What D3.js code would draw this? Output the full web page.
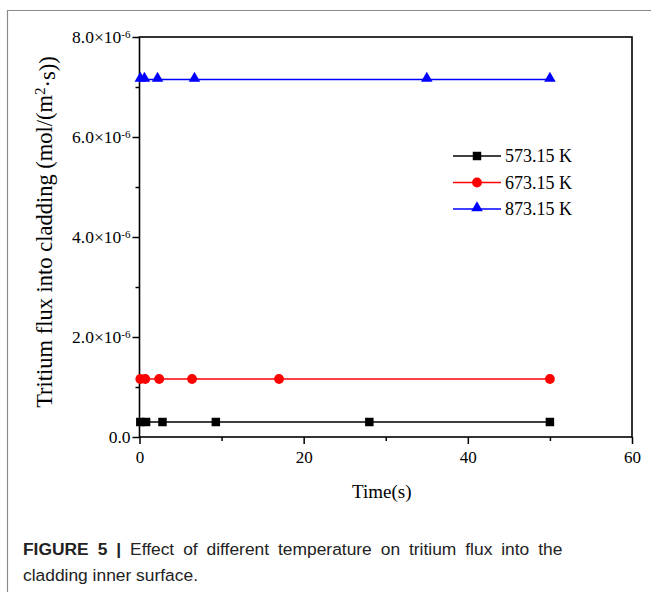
<!DOCTYPE html>
<html>
<head>
<meta charset="utf-8">
<script src="https://cdn.jsdelivr.net/npm/d3@7"></script>
<style>
  html, body { margin: 0; padding: 0; background: #fff; }
  svg { display: block; }
</style>
</head>
<body>
<svg id="chart" width="651" height="592"></svg>
<script>
// Time points (s) and tritium flux (mol/(m^2·s)) for each cladding temperature
const times573 = [0.1, 0.8, 2.8, 9.3, 28, 50];
const flux573  = [3.0e-7, 3.0e-7, 3.0e-7, 3.0e-7, 3.0e-7, 3.0e-7];
const times673 = [0.1, 0.7, 2.4, 6.4, 17, 50];
const flux673  = [1.16e-6, 1.16e-6, 1.16e-6, 1.16e-6, 1.16e-6, 1.16e-6];
const times873 = [0.1, 0.6, 2.2, 6.7, 35, 50];
const flux873  = [7.15e-6, 7.15e-6, 7.15e-6, 7.15e-6, 7.15e-6, 7.15e-6];

const seriesNames = ["573.15 K", "673.15 K", "873.15 K"];
const xTicks = [0, 20, 40, 60];
const xMinorTicks = [10, 30, 50];
const yTicks = [0, 2e-6, 4e-6, 6e-6, 8e-6];
const yMinorTicks = [1e-6, 3e-6, 5e-6, 7e-6];

const series = [
  { name: seriesNames[0], t: times573, v: flux573, color: "#000000", symbol: d3.symbolSquare, size: 72 },
  { name: seriesNames[1], t: times673, v: flux673, color: "#ff0000", symbol: d3.symbolCircle, size: 76 },
  { name: seriesNames[2], t: times873, v: flux873, color: "#0000ff", symbol: d3.symbolTriangle, size: 58 }
];

const svg = d3.select("#chart");
const serif = "'Liberation Serif', 'Times New Roman', serif";
const sans = "'Liberation Sans', Arial, sans-serif";

// outer figure frame (top and left edges)
svg.append("path")
  .attr("d", "M7.5,592 L7.5,10.5 L651,10.5")
  .attr("fill", "none").attr("stroke", "#8a8a8a").attr("stroke-width", 1.2);

const L = 139.5, R = 632, T = 37, B = 437;
const x = d3.scaleLinear().domain([0, 60]).range([L, R]);
const y = d3.scaleLinear().domain([0, 8e-6]).range([B, T]);

const g = svg.append("g");

// minor ticks
g.append("g").attr("transform", `translate(0,${B})`)
  .call(d3.axisBottom(x).tickValues(xMinorTicks).tickSize(4).tickFormat(""))
  .call(a => a.select(".domain").remove())
  .selectAll("line").attr("stroke", "#000").attr("stroke-width", 1.5);
g.append("g").attr("transform", `translate(${L},0)`)
  .call(d3.axisLeft(y).tickValues(yMinorTicks).tickSize(4).tickFormat(""))
  .call(a => a.select(".domain").remove())
  .selectAll("line").attr("stroke", "#000").attr("stroke-width", 1.5);

// major x axis
const xAx = g.append("g").attr("transform", `translate(0,${B})`)
  .call(d3.axisBottom(x).tickValues(xTicks).tickSize(7).tickPadding(7).tickFormat(d3.format("d")));
xAx.select(".domain").remove();
xAx.selectAll("line").attr("stroke", "#000").attr("stroke-width", 1.5);
xAx.selectAll("text").attr("font-family", serif).attr("font-size", 17).attr("fill", "#000");

// major y axis with ×10^-6 labels
const yAx = g.append("g").attr("transform", `translate(${L},0)`)
  .call(d3.axisLeft(y).tickValues(yTicks).tickSize(7).tickPadding(4).tickFormat(""));
yAx.select(".domain").remove();
yAx.selectAll("line").attr("stroke", "#000").attr("stroke-width", 1.5);
yAx.selectAll(".tick").each(function(d) {
  const t = d3.select(this).select("text")
    .attr("font-family", serif).attr("font-size", 17.5).attr("fill", "#000")
    .attr("x", -9).attr("dy", "0.32em").attr("text-anchor", "end");
  if (d === 0) {
    t.text("0.0");
  } else {
    t.text(null);
    t.append("tspan").text((d * 1e6).toFixed(1) + "×10");
    t.append("tspan").attr("dy", "-0.45em").attr("font-size", 11).text("-6");
  }
});

// plot frame
g.append("rect")
  .attr("x", L).attr("y", T).attr("width", R - L).attr("height", B - T)
  .attr("fill", "none").attr("stroke", "#000").attr("stroke-width", 1.6);

// series lines and markers
const line = d3.line().x(d => x(d[0])).y(d => y(d[1]));
series.forEach(s => {
  const pts = s.t.map((t, i) => [t, s.v[i]]);
  g.append("path").datum(pts).attr("d", line)
    .attr("fill", "none").attr("stroke", s.color).attr("stroke-width", 1.6);
  g.selectAll(null).data(pts).enter().append("path")
    .attr("d", d3.symbol().type(s.symbol).size(s.size))
    .attr("transform", d => `translate(${x(d[0])},${y(d[1]) + (s.symbol === d3.symbolTriangle ? -1 : 0)})`)
    .attr("fill", s.color);
});

// legend
const lg = g.append("g");
series.forEach((s, i) => {
  const yy = 156 + i * 26.5;
  lg.append("line").attr("x1", 453).attr("x2", 501).attr("y1", yy).attr("y2", yy)
    .attr("stroke", s.color).attr("stroke-width", 1.6);
  lg.append("path").attr("d", d3.symbol().type(s.symbol).size(s.size))
    .attr("transform", `translate(477,${yy + (s.symbol === d3.symbolTriangle ? -1 : 0)})`)
    .attr("fill", s.color);
  lg.append("text").attr("x", 505).attr("y", yy).attr("dy", "0.35em")
    .attr("font-family", serif).attr("font-size", 18).attr("fill", "#000").text(s.name);
});

// axis titles
svg.append("text").attr("x", (L + R) / 2 - 4).attr("y", 498)
  .attr("text-anchor", "middle").attr("font-family", serif).attr("font-size", 19)
  .attr("fill", "#000").text("Time(s)");

const yt = svg.append("text")
  .attr("transform", `translate(52,${(T + B) / 2 - 5}) rotate(-90)`)
  .attr("text-anchor", "middle").attr("font-family", serif).attr("font-size", 22.5).attr("fill", "#000");
yt.append("tspan").text("Tritium flux into cladding (mol/(m");
yt.append("tspan").attr("dy", "-0.45em").attr("font-size", 15).text("2");
yt.append("tspan").attr("dy", "0.45em").text("·s))");

// caption (first line justified to the column width)
const cap = svg.append("g").attr("font-family", sans).attr("font-size", 17.4).attr("fill", "#222");
const c1 = cap.append("text").attr("x", 23).attr("y", 555).attr("word-spacing", 4.1);
c1.append("tspan").attr("font-weight", "bold").text("FIGURE 5 | ");
c1.append("tspan").text("Effect of different temperature on tritium flux into the");
cap.append("text").attr("x", 23).attr("y", 581).text("cladding inner surface.");
</script>
</body>
</html>
